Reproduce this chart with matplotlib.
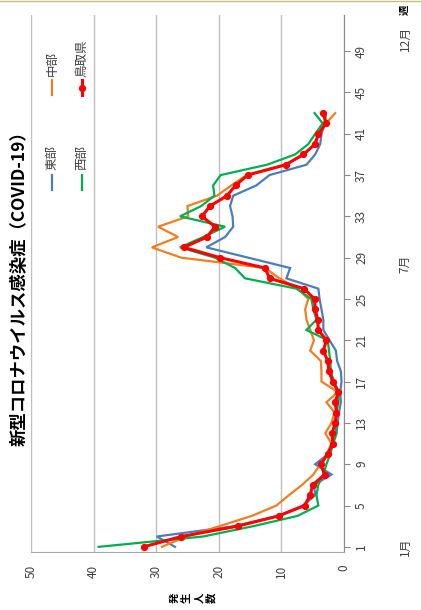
import matplotlib
matplotlib.use("Agg")
import matplotlib.pyplot as plt
from matplotlib.lines import Line2D

plt.rcParams['font.family'] = ['Noto Sans CJK JP', 'DejaVu Sans']

weeks = list(range(1, 44))
east = [27.0, 29.9, 17.5, 10.5, 6.5, 4.6, 4.8, 2.0, 4.6, 2.5, 2.0, 1.2, 1.0, 0.8, 0.5,
        0.6, 0.4, 0.5, 1.1, 1.3, 2.3, 3.3, 3.3, 3.6, 3.9, 4.1, 9.2, 8.6, 15.3, 22.0,
        19.0, 17.7, 17.8, 18.2, 17.7, 14.0, 11.9, 6.0, 4.6, 3.8, 3.6, 3.0, 2.9]
central = [29.1, 25.2, 19.9, 14.7, 10.8, 8.8, 6.7, 4.9, 3.8, 2.7, 2.0, 3.0, 2.0, 1.5, 2.8,
           1.0, 3.6, 3.6, 3.7, 5.4, 4.8, 5.4, 6.0, 6.2, 5.7, 7.4, 10.3, 12.6, 26.0, 30.7,
           26.5, 29.7, 24.9, 25.0, 20.3, 18.0, 15.5, 9.4, 6.3, 4.8, 4.0, 2.9, 1.4]
west = [39.2, 22.5, 14.5, 7.4, 4.1, 4.4, 4.1, 3.3, 2.8, 2.2, 1.7, 1.2, 1.4, 1.2, 0.9,
        0.8, 1.6, 2.1, 2.2, 2.4, 2.6, 6.0, 4.4, 4.9, 5.2, 7.6, 15.8, 17.4, 20.6, 26.2,
        22.5, 19.0, 26.2, 22.8, 20.7, 20.9, 19.7, 12.3, 7.8, 5.7, 4.6, 3.4, 4.7]
tottori = [32.0, 26.0, 17.0, 10.4, 6.3, 5.4, 5.0, 3.1, 3.7, 2.6, 1.8, 1.9, 1.4, 1.2, 1.4,
           0.9, 1.8, 2.4, 2.6, 3.3, 2.8, 4.1, 4.2, 4.6, 4.7, 6.4, 11.9, 12.6, 19.8, 25.6,
           21.9, 20.6, 22.7, 21.4, 18.7, 17.3, 15.4, 9.3, 6.5, 4.6, 4.1, 2.9, 3.3]

series_names = ['東部', '中部', '西部', '鳥取県']
value_ticks = [0, 10, 20, 30, 40, 50]
week_ticks = list(range(1, 53, 4))
n_weeks = 52
month_labels = ['1月', '7月', '12月']
month_weeks = [1, 28.4, 50.2]
title = '新型コロナウイルス感染症（COVID-19）'
ylabel = '発生人数'
xlabel = '週'

c_east = '#4a7ebb'
c_central = '#f07f22'
c_west = '#00b050'
c_tot = '#ff0000'

W, H = 421, 610
fig = plt.figure(figsize=(W / 100, H / 100), dpi=100)
fig.patch.set_facecolor('white')

ax = fig.add_axes([31 / W, 58 / H, 313 / W, 537 / H])
ax.plot(east, weeks, color=c_east, lw=1.6, solid_joinstyle='miter', zorder=3)
ax.plot(central, weeks, color=c_central, lw=1.6, solid_joinstyle='miter', zorder=3)
ax.plot(west, weeks, color=c_west, lw=1.6, solid_joinstyle='miter', zorder=3)
ax.plot(tottori, weeks, color=c_tot, lw=2.2, marker='o', ms=4.2, zorder=4)

ax.set_xlim(50, 0)
ax.set_ylim(0.5, n_weeks + 0.5)
ax.set_xticks(value_ticks)
ax.set_xticklabels([str(v) for v in value_ticks])
ax.grid(axis='x', color='#bfbfbf', lw=1.0, zorder=1)
ax.tick_params(axis='x', length=0, pad=9, labelrotation=90, labelsize=8.5, colors='#404040')
ax.yaxis.tick_right()
ax.set_yticks(week_ticks)
ax.set_yticklabels([str(w) for w in week_ticks])
ax.tick_params(axis='y', direction='out', length=4, width=0.8, color='#898989',
               pad=4, labelrotation=90, labelsize=8.5, labelcolor='#404040')
for lab in ax.get_yticklabels():
    lab.set_va('center')
for s in ['left', 'top']:
    ax.spines[s].set_visible(False)
ax.spines['right'].set_color('#898989')
ax.spines['bottom'].set_color('#a6a6a6')

# title
fig.text(20 / W, 1 - 284 / H, title, rotation=90, ha='center', va='center',
         fontsize=12.5, fontweight='bold', color='black')

# legend (drawn rotated)
def legend_item(xc, y_line0, y_line1, y_text, name, color, lw, marker=None):
    fig.add_artist(Line2D([xc / W, xc / W], [1 - y_line0 / H, 1 - y_line1 / H],
                          color=color, lw=lw, transform=fig.transFigure))
    if marker:
        ym = (y_line0 + y_line1) / 2
        fig.add_artist(Line2D([xc / W], [1 - ym / H], color=color, marker=marker,
                              ms=4.2, transform=fig.transFigure))
    fig.text(xc / W, 1 - y_text / H, name, rotation=90, ha='center', va='center',
             fontsize=9, color='#404040')

legend_item(52, 190, 175, 158, series_names[0], c_east, 1.6)
legend_item(52, 95, 80, 63, series_names[1], c_central, 1.6)
legend_item(82, 190, 175, 158, series_names[2], c_west, 1.6)
legend_item(82, 95, 80, 58, series_names[3], c_tot, 2.2, marker='o')

# month labels
for lab, wk in zip(month_labels, month_weeks):
    yp = 58 + (wk - 0.5) / n_weeks * 537
    fig.text(405 / W, yp / H, lab, rotation=90, ha='center', va='center',
             fontsize=8.5, color='#404040')

# week axis title
fig.text(405 / W, 1 - 10 / H, xlabel, rotation=90, ha='center', va='center',
         fontsize=7.5, fontweight='bold', color='black')

# value axis title (stacked characters, rotated)
for i, ch in enumerate(ylabel):
    fig.text((175 + i * 12) / W, 1 - 598 / H, ch, rotation=90, ha='center', va='center',
             fontsize=7.5, fontweight='bold', color='black')

# thin top border
fig.add_artist(Line2D([0, 1], [1 - 0.5 / H, 1 - 0.5 / H], color='#c8c07a', lw=1.0,
                      transform=fig.transFigure))

fig.savefig('out.png', dpi=100)
